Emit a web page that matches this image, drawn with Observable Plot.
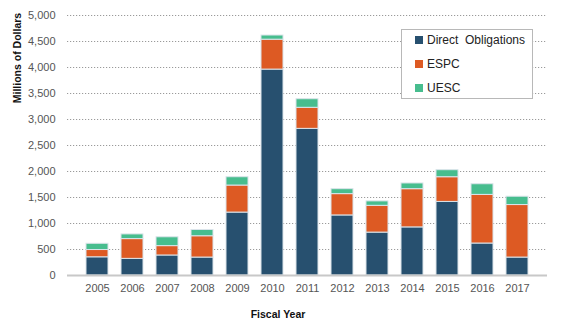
<!DOCTYPE html>
<html>
<head>
<meta charset="utf-8">
<script src="https://cdn.jsdelivr.net/npm/d3@7"></script>
<script src="https://cdn.jsdelivr.net/npm/@observablehq/plot@0.6"></script>
<style>
  html, body { margin: 0; padding: 0; background: #fff; }
  #wrap { position: relative; width: 561px; height: 332px; font-family: "Liberation Sans", "DejaVu Sans", sans-serif; }
  #legend { position: absolute; left: 401px; top: 29px; width: 132px; height: 70px; border: 1px solid #b8b8b8; background: #fff; box-sizing: border-box; }
  .li { position: absolute; left: 13px; font-size: 12px; color: #222; display: flex; align-items: center; white-space: pre; }
  .sw { width: 8px; height: 8px; margin-right: 4px; }
</style>
</head>
<body>
<div id="wrap"></div>
<script>
const years = ["2005","2006","2007","2008","2009","2010","2011","2012","2013","2014","2015","2016","2017"];
const series = ["Direct  Obligations", "ESPC", "UESC"];
const directObligations = [350, 320, 385, 345, 1210, 3960, 2820, 1155, 825, 925, 1415, 615, 345];
const espc = [140, 380, 180, 410, 520, 575, 405, 410, 515, 735, 475, 935, 1010];
const uesc = [120, 90, 170, 120, 160, 80, 165, 95, 85, 110, 135, 205, 160];
const yTicks = [0, 500, 1000, 1500, 2000, 2500, 3000, 3500, 4000, 4500, 5000];
const colors = ["#27506f", "#dd5a23", "#47bd8e"];

const values = [directObligations, espc, uesc];
const data = [];
series.forEach((s, i) => years.forEach((y, j) => data.push({year: y, series: s, value: values[i][j]})));

const chart = Plot.plot({
  width: 561,
  height: 332,
  marginLeft: 67,
  marginRight: 14,
  marginTop: 15,
  marginBottom: 57,
  style: {fontFamily: "Liberation Sans, DejaVu Sans, sans-serif", fontSize: "11px", color: "#555", background: "#fff"},
  x: {domain: years, padding: 0.37, label: null, tickSize: 0, tickPadding: 9},
  y: {domain: [0, 5000], label: null, ticks: yTicks, tickFormat: d3.format(","), tickSize: 0, tickPadding: 12},
  color: {domain: series, range: colors},
  marks: [
    Plot.gridY(yTicks.filter(d => d > 0), {stroke: "#9a9a9a", strokeOpacity: 1, strokeDasharray: "1.2,1.8"}),
    Plot.barY(data, {x: "year", y: "value", fill: "series", stroke: "#dbe4ea", strokeWidth: 1, insetTop: 0, insetBottom: 0}),
    Plot.ruleY([0], {stroke: "#c8c8c8", strokeWidth: 2})
  ]
});
document.getElementById("wrap").appendChild(chart);

const svg = d3.select(chart);
svg.append("text")
  .attr("transform", "translate(21,58) rotate(-90)")
  .attr("text-anchor", "middle")
  .attr("font-weight", "bold")
  .attr("font-size", "10.5px")
  .attr("fill", "#111")
  .text("Millions of Dollars");
svg.append("text")
  .attr("x", 278).attr("y", 318)
  .attr("text-anchor", "middle")
  .attr("font-weight", "bold")
  .attr("font-size", "10.5px")
  .attr("fill", "#111")
  .text("Fiscal Year");

const legend = d3.select("#wrap").append("div").attr("id", "legend");
series.forEach((s, i) => {
  const row = legend.append("div").attr("class", "li").style("top", (3 + i * 24) + "px");
  row.append("div").attr("class", "sw").style("background", colors[i]);
  row.append("span").text(s);
});
</script>
</body>
</html>
